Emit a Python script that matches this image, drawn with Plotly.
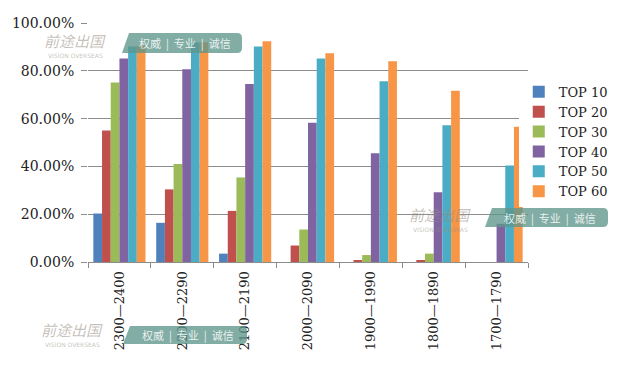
import plotly.graph_objects as go

categories = ["2300—2400", "2200—2290", "2100—2190", "2000—2090", "1900—1990", "1800—1890", "1700—1790"]
series_names = ["TOP 10", "TOP 20", "TOP 30", "TOP 40", "TOP 50", "TOP 60"]
top10 = [0.203, 0.164, 0.035, 0.0, 0.0, 0.0, 0.0]
top20 = [0.550, 0.304, 0.214, 0.069, 0.007, 0.005, 0.0]
top30 = [0.751, 0.410, 0.354, 0.136, 0.029, 0.035, 0.0]
top40 = [0.852, 0.807, 0.745, 0.583, 0.455, 0.292, 0.160]
top50 = [0.902, 0.919, 0.902, 0.852, 0.757, 0.572, 0.404]
top60 = [0.905, 0.920, 0.924, 0.874, 0.840, 0.717, 0.566]
colors = ["#4F81BD", "#C0504D", "#9BBB59", "#8064A2", "#4BACC6", "#F79646"]

# page has an 8px body margin; the figure is sized to fit the window
OFF = 8
W, H = 637 - OFF, 368 - OFF
L, R, T, B = 88, 528, 23, 262  # plot area in page pixels

FONT = "DejaVu Serif"

fig = go.Figure()
for name, vals, c in zip(series_names, [top10, top20, top30, top40, top50, top60], colors):
    fig.add_trace(go.Bar(x=categories, y=vals, name=name, marker=dict(color=c, line=dict(width=0))))

def px(x):
    return (x - L) / (R - L)

def py(y):
    return (B - y) / (B - T)

shapes = []
annotations = []
# watermarks: (logo text center x, center y, box x0, x1, y0, y1) in page pixels
marks = [
    (75, 41, 122, 242, 33, 53),
    (440, 215, 485, 608, 208, 227),
    (72, 330, 123, 247, 326, 344),
]
for (lx, ly, x0, x1, y0, y1) in marks:
    path = "M {a},{b} L {c},{b} Q {d},{b} {d},{e} L {d},{f} Q {d},{g} {c},{g} L {h},{g} Z".format(
        a=px(x0 + 7), b=py(y0), c=px(x1 - 5), d=px(x1), e=py(y0 + 5), f=py(y1 - 5), g=py(y1), h=px(x0))
    shapes.append(dict(type="path", xref="paper", yref="paper", path=path,
                       fillcolor="rgba(95,150,140,0.78)", line=dict(width=0), layer="above"))
    annotations.append(dict(x=px((x0 + x1) / 2 + 3), y=py((y0 + y1) / 2), xref="paper", yref="paper",
                            xanchor="center", yanchor="middle",
                            text="权威  |  专业  |  诚信", showarrow=False,
                            font=dict(family="Noto Sans CJK SC", size=11, color="rgba(255,255,255,0.85)")))
    annotations.append(dict(x=px(lx), y=py(ly - 1), xref="paper", yref="paper",
                            xanchor="center", yanchor="middle",
                            text="<i>前途出国</i>", showarrow=False,
                            font=dict(family="Noto Sans CJK SC", size=15, color="rgba(150,140,130,0.55)")))
    annotations.append(dict(x=px(lx), y=py(ly + 14), xref="paper", yref="paper",
                            xanchor="center", yanchor="middle",
                            text="VISION OVERSEAS", showarrow=False,
                            font=dict(family="DejaVu Sans", size=6, color="rgba(150,140,130,0.55)")))

fig.update_layout(
    width=W, height=H,
    margin=dict(l=L - OFF, r=W - (R - OFF), t=T - OFF, b=H - (B - OFF), pad=0),
    paper_bgcolor="white", plot_bgcolor="white",
    barmode="group", bargap=0.17, bargroupgap=0,
    font=dict(family=FONT, size=13, color="#222"),
    showlegend=True,
    legend=dict(x=0.979, y=0.775, xanchor="left", yanchor="top",
                font=dict(family=FONT, size=13, color="#222"),
                itemwidth=30, tracegroupgap=0),
    xaxis=dict(showline=True, linecolor="#8c8c8c", linewidth=1, automargin=False,
               ticks="outside", tickson="boundaries", ticklen=5, tickcolor="#8c8c8c",
               tickangle=-90, tickfont=dict(family=FONT, size=13, color="#222"),
               ticklabelstandoff=3, showgrid=False),
    yaxis=dict(range=[0, 1.0005], dtick=0.2, tickformat=".2%", automargin=False,
               showline=False, ticks="outside", ticklen=6, tickcolor="#8c8c8c",
               showgrid=True, gridcolor="#8c8c8c", gridwidth=1, zeroline=False,
               ticklabelstandoff=4,
               tickfont=dict(family=FONT, size=14, color="#222")),
    shapes=shapes,
    annotations=annotations,
)

fig.write_html("out.html")
